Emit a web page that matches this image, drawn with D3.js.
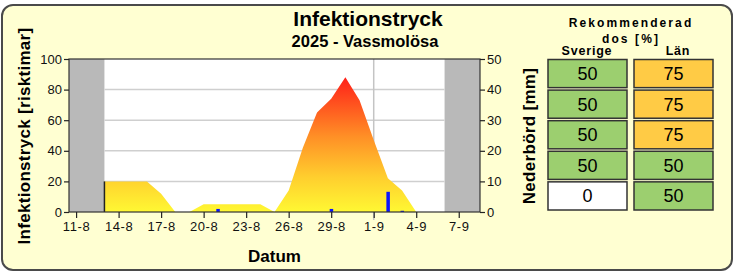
<!DOCTYPE html>
<html>
<head>
<meta charset="utf-8">
<script src="https://cdn.jsdelivr.net/npm/d3@7"></script>
<style>
  body { margin: 0; background: #fff; }
  svg { font-family: "Liberation Sans", Arial, sans-serif; display: block; }
  .tick text { font-size: 13px; fill: #111; }
  .xaxis .tick text { letter-spacing: 0.6px; }
</style>
</head>
<body>
<svg id="chart" width="739" height="273"></svg>
<script>
// Daily values, 13-8 .. 6-9
var days = ["2025-08-13","2025-08-14","2025-08-15","2025-08-16","2025-08-17","2025-08-18","2025-08-19",
            "2025-08-20","2025-08-21","2025-08-22","2025-08-23","2025-08-24","2025-08-25","2025-08-26",
            "2025-08-27","2025-08-28","2025-08-29","2025-08-30","2025-08-31","2025-09-01","2025-09-02",
            "2025-09-03","2025-09-04","2025-09-05","2025-09-06"];
var infection = [20, 20, 20, 20, 12, 0, 0, 5, 5, 5, 5, 5, 0, 14, 42, 65, 74, 88, 73, 47, 22, 14, 0, 0, 0];
var rain = [0, 0, 0, 0, 0, 0, 0, 0, 1, 0, 0, 0, 0, 0, 0, 0, 1, 0, 0, 0, 6.6, 0.4, 0, 0, 0];
var tickDays = ["2025-08-11","2025-08-14","2025-08-17","2025-08-20","2025-08-23","2025-08-26",
                "2025-08-29","2025-09-01","2025-09-04","2025-09-07"];
var todayDay = "2025-09-01";

// Recommended dose table
var doseSweden = [50, 50, 50, 50, 0];
var doseCounty = [75, 75, 75, 50, 50];

var parse = d3.timeParse("%Y-%m-%d");
var data = days.map((d, i) => ({ date: parse(d), inf: infection[i], rain: rain[i] }));

var svg = d3.select("#chart");

// Frame
svg.append("rect")
    .attr("x", 2).attr("y", 5)
    .attr("width", 730).attr("height", 265)
    .attr("rx", 11)
    .style("fill", "#ffffd2")
    .style("stroke", "#4a4a4a")
    .style("stroke-width", 2);

var pLeft = 69, pRight = 480, pTop = 59, pBottom = 212;

var x = d3.scaleTime()
    .domain([new Date(2025, 7, 10, 12), new Date(2025, 8, 8, 12)])
    .range([pLeft, pRight]);
var y = d3.scaleLinear().domain([0, 100]).range([pBottom, pTop]);
var y2 = d3.scaleLinear().domain([0, 50]).range([pBottom, pTop]);

var first = data[0].date, last = data[data.length - 1].date;

// Plot background
svg.append("rect")
    .attr("x", pLeft).attr("y", pTop)
    .attr("width", pRight - pLeft).attr("height", pBottom - pTop)
    .style("fill", "#fff");

// Grey areas outside the data period
svg.append("rect")
    .attr("x", pLeft).attr("y", pTop)
    .attr("width", x(first) - pLeft).attr("height", pBottom - pTop)
    .style("fill", "#b9b9b9");
svg.append("rect")
    .attr("x", x(last)).attr("y", pTop)
    .attr("width", pRight - x(last)).attr("height", pBottom - pTop)
    .style("fill", "#b9b9b9");

// Gridlines
svg.append("g")
    .selectAll("line")
    .data([20, 40, 60, 80])
    .join("line")
    .attr("x1", x(first)).attr("x2", x(last))
    .attr("y1", d => y(d)).attr("y2", d => y(d))
    .style("stroke", "#cfcfcf")
    .style("stroke-width", 1.5);

svg.append("line")
    .attr("x1", x(parse(todayDay))).attr("x2", x(parse(todayDay)))
    .attr("y1", pTop).attr("y2", pBottom + 8)
    .style("stroke", "#c4c4c4")
    .style("stroke-width", 1.5);

// Gradient for infection pressure
var grad = svg.append("defs").append("linearGradient")
    .attr("id", "infgrad")
    .attr("gradientUnits", "userSpaceOnUse")
    .attr("x1", 0).attr("x2", 0)
    .attr("y1", y(0)).attr("y2", y(90));
grad.append("stop").attr("offset", "0%").attr("stop-color", "#fff833");
grad.append("stop").attr("offset", "25%").attr("stop-color", "#ffcf2e");
grad.append("stop").attr("offset", "55%").attr("stop-color", "#ff8f26");
grad.append("stop").attr("offset", "100%").attr("stop-color", "#ff1a18");

var area = d3.area()
    .x(d => x(d.date))
    .y0(y(0))
    .y1(d => y(d.inf));

svg.append("path")
    .datum(data)
    .attr("d", area)
    .style("fill", "url(#infgrad)");

// Start edge of the data
svg.append("line")
    .attr("x1", x(first)).attr("x2", x(first))
    .attr("y1", y(data[0].inf)).attr("y2", y(0))
    .style("stroke", "#222")
    .style("stroke-width", 1.5);

// Rain bars
svg.append("g")
    .selectAll("rect")
    .data(data.filter(d => d.rain > 0))
    .join("rect")
    .attr("x", d => x(d.date) - 1.5)
    .attr("width", 3.5)
    .attr("y", d => y2(d.rain))
    .attr("height", d => y2(0) - y2(d.rain))
    .style("fill", "#0a14ff");

// Plot border
svg.append("rect")
    .attr("x", pLeft).attr("y", pTop)
    .attr("width", pRight - pLeft).attr("height", pBottom - pTop)
    .style("fill", "none")
    .style("stroke", "#333")
    .style("stroke-width", 1.2);

// Axes
var xAxis = d3.axisBottom(x)
    .tickValues(tickDays.map(parse))
    .tickFormat(d3.timeFormat("%-d-%-m"))
    .tickSize(6)
    .tickPadding(4);
svg.append("g")
    .attr("class", "xaxis")
    .attr("transform", `translate(0,${pBottom})`)
    .call(xAxis)
    .call(g => g.select(".domain").remove());

svg.append("g")
    .attr("transform", `translate(${pLeft},0)`)
    .call(d3.axisLeft(y).tickValues([0, 20, 40, 60, 80, 100]).tickSize(5).tickPadding(2))
    .call(g => g.select(".domain").remove());

svg.append("g")
    .attr("transform", `translate(${pRight},0)`)
    .call(d3.axisRight(y2).tickValues([0, 10, 20, 30, 40, 50]).tickSize(5).tickPadding(2))
    .call(g => g.select(".domain").remove());

svg.selectAll(".tick line").style("stroke", "#222").style("stroke-width", 1.2);

// Titles
svg.append("text")
    .attr("x", 368).attr("y", 26)
    .attr("text-anchor", "middle")
    .style("font-size", "21px").style("font-weight", "bold")
    .text("Infektionstryck");
svg.append("text")
    .attr("x", 365).attr("y", 47)
    .attr("text-anchor", "middle")
    .style("font-size", "16.5px").style("font-weight", "bold")
    .text("2025 - Vassmolösa");

svg.append("text")
    .attr("x", 274.5).attr("y", 262)
    .attr("text-anchor", "middle")
    .style("font-size", "17px").style("font-weight", "bold")
    .text("Datum");

svg.append("text")
    .attr("transform", "translate(30,136) rotate(-90)")
    .attr("text-anchor", "middle")
    .style("font-size", "17px").style("font-weight", "bold")
    .style("letter-spacing", "0.3px")
    .text("Infektionstryck [risktimar]");

svg.append("text")
    .attr("transform", "translate(535,136) rotate(-90)")
    .attr("text-anchor", "middle")
    .style("font-size", "17px").style("font-weight", "bold")
    .style("letter-spacing", "0.3px")
    .text("Nederbörd [mm]");

// Dose table
var rows = d3.scaleBand().domain(d3.range(doseSweden.length)).range([59.5, 210]).paddingInner(0.08);
var cols = [{ name: "Sverige", x: 548, cx: 587, vals: doseSweden },
            { name: "Län", x: 634, cx: 678, vals: doseCounty }];

function doseColor(v) {
    if (v >= 75) return "#ffcb45";
    if (v >= 50) return "#9ccf6f";
    return "#ffffff";
}

svg.append("text")
    .attr("x", 631).attr("y", 27)
    .attr("text-anchor", "middle")
    .style("font-size", "12px").style("font-weight", "bold")
    .style("letter-spacing", "2.1px")
    .text("Rekommenderad");
svg.append("text")
    .attr("x", 631).attr("y", 43)
    .attr("text-anchor", "middle")
    .style("font-size", "12px").style("font-weight", "bold")
    .style("letter-spacing", "2.1px")
    .text("dos [%]");

cols.forEach(c => {
    svg.append("text")
        .attr("x", c.cx).attr("y", 55)
        .attr("text-anchor", "middle")
        .style("font-size", "12.5px").style("font-weight", "bold")
        .style("letter-spacing", "0.8px")
        .text(c.name);

    var g = svg.append("g");
    g.selectAll("rect")
        .data(c.vals)
        .join("rect")
        .attr("x", c.x)
        .attr("y", (d, i) => rows(i))
        .attr("width", 79)
        .attr("height", rows.bandwidth())
        .style("fill", d => doseColor(d))
        .style("stroke", "#333")
        .style("stroke-width", 1.5);
    g.selectAll("text")
        .data(c.vals)
        .join("text")
        .attr("x", c.x + 39.5)
        .attr("y", (d, i) => rows(i) + rows.bandwidth() / 2 + 6.5)
        .attr("text-anchor", "middle")
        .style("font-size", "18px")
        .text(d => d);
});
</script>
</body>
</html>
